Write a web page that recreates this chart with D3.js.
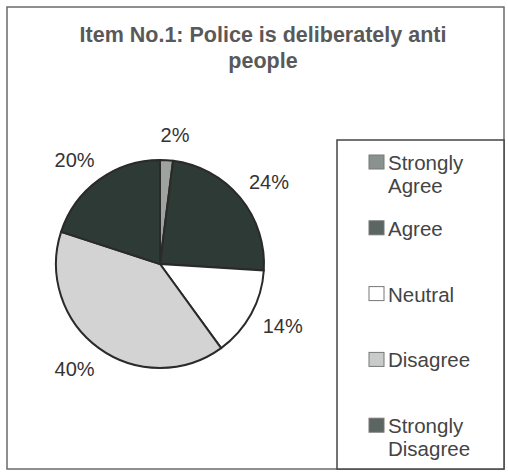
<!DOCTYPE html>
<html>
<head>
<meta charset="utf-8">
<script src="https://cdn.jsdelivr.net/npm/d3@7"></script>
<style>
  html, body { margin: 0; padding: 0; background: #fff; }
  svg { display: block; font-family: "Liberation Sans", Arial, sans-serif; }
</style>
</head>
<body>
<svg id="chart" width="508" height="472"></svg>
<script>
const titleLines = ["Item No.1: Police is deliberately anti", "people"];
const categories = ["Strongly Agree", "Agree", "Neutral", "Disagree", "Strongly Disagree"];
const legendLines = [["Strongly", "Agree"], ["Agree"], ["Neutral"], ["Disagree"], ["Strongly", "Disagree"]];
const values = [2, 24, 14, 40, 20];
const labels = ["2%", "24%", "14%", "40%", "20%"];
const sliceColors = ["#9ea3a0", "#2e3a36", "#ffffff", "#d3d3d3", "#2e3a36"];
const swatchColors = ["#8a9290", "#5b6663", "#ffffff", "#c9cbca", "#5b6663"];

const svg = d3.select("#chart");

// outer frame
svg.append("rect").attr("x", 7).attr("y", 7).attr("width", 497).attr("height", 462)
  .attr("fill", "#fff").attr("stroke", "#6a6a6a").attr("stroke-width", 1.5);

// title
svg.append("text").attr("text-anchor", "middle").attr("fill", "#595959")
  .attr("font-size", 21.5).attr("font-weight", "bold")
  .selectAll("tspan").data(titleLines).join("tspan")
  .attr("x", 263).attr("y", (d, i) => 42 + i * 26).text(d => d);

// pie
const cx = 160, cy = 264, R = 104;
const pie = d3.pie().sort(null).value(d => d).startAngle(0).endAngle(2 * Math.PI);
const arcs = pie(values);
const arc = d3.arc().innerRadius(0).outerRadius(R);
const labelR = 129;

const g = svg.append("g").attr("transform", `translate(${cx},${cy})`);
g.selectAll("path").data(arcs).join("path")
  .attr("d", arc)
  .attr("fill", (d, i) => sliceColors[i])
  .attr("stroke", "#2a2a2a").attr("stroke-width", 2).attr("stroke-linejoin", "round");

// labels: placed outside the rim, pushed outward horizontally by part of their width
g.selectAll("text.lbl").data(arcs).join("text").attr("class", "lbl")
  .attr("font-size", 20).attr("fill", "#333")
  .attr("text-anchor", "middle").attr("dy", "0.36em")
  .text((d, i) => labels[i])
  .attr("transform", function(d) {
    const a = (d.startAngle + d.endAngle) / 2;
    const w = this.getComputedTextLength();
    const x = Math.sin(a) * labelR + Math.sign(Math.round(Math.sin(a) * 10)) * w * 0.24;
    const y = -Math.cos(a) * labelR;
    return `translate(${x},${y})`;
  });

// legend box
svg.append("rect").attr("x", 337).attr("y", 140).attr("width", 167).attr("height", 329)
  .attr("fill", "#fff").attr("stroke", "#444").attr("stroke-width", 1.5);

const lg = svg.append("g").selectAll("g").data(categories).join("g")
  .attr("transform", (d, i) => `translate(369,${170 + i * 65.8})`);
lg.append("rect").attr("x", 0).attr("y", -15).attr("width", 15).attr("height", 14)
  .attr("fill", (d, i) => swatchColors[i])
  .attr("stroke", "#777").attr("stroke-width", 1);
lg.append("text").attr("font-size", 20.5).attr("fill", "#444")
  .selectAll("tspan").data((d, i) => legendLines[i]).join("tspan")
  .attr("x", 19).attr("y", (d, j) => j * 23).text(d => d);
</script>
</body>
</html>
